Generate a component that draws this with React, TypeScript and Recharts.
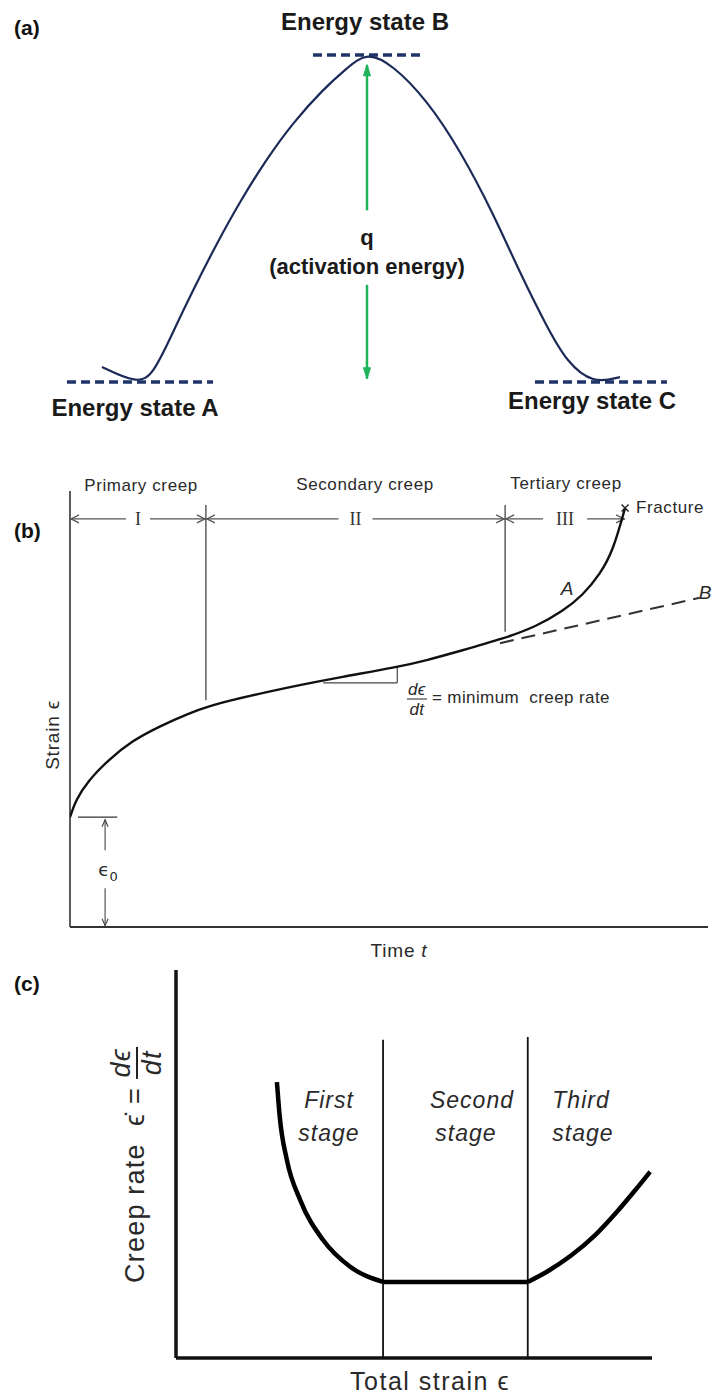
import React from 'react'
import { LineChart, Line, XAxis, YAxis, ReferenceLine, ReferenceDot } from 'recharts'

const SANS = '"Liberation Sans", Arial, sans-serif'
const SERIF = '"Liberation Serif", "DejaVu Serif", serif'
const NAVY = '#1f3468'
const GREEN = '#1fb45a'

// (a) energy along the reaction path A -> B -> C
const pathPos = [0.7, 1.4, 1.72, 2.12, 2.52, 3.0, 3.46, 4.0, 4.52, 5.12, 5.6, 6.0, 6.52, 7.2, 7.86, 8.52, 9.06, 9.6, 10.0, 10.52, 11.06]
const pathEnergy = [0.46, -0.05, 0.21, 1.53, 2.81, 4.25, 5.52, 6.84, 7.93, 8.95, 9.6, 10.1, 9.69, 8.62, 7.09, 5.17, 3.33, 1.68, 0.6, -0.05, 0.15]
const stateLevels = [0, 10, 0] // A, B, C
const stateSpans = [[0, 2.92], [4.92, 7.06], [9.36, 12]]
const peakPos = 6
const qUpper = [9.7, 5.25]
const qLower = [2.97, 0.1]

// (b) strain vs time
const creepTime = [0, 0.9, 2.8, 6, 9.7, 14.1, 18.8, 21.5, 25.5, 30.9, 36, 42.3, 51.3, 56, 61.1, 67.9, 73.2, 77.3, 80.4, 83.1, 85.1, 87]
const creepStrain = [25.2, 29.1, 33.5, 38.3, 42.7, 46.1, 49.1, 50.5, 52.1, 53.9, 55.5, 57.3, 59.6, 61.2, 63.3, 66.1, 69, 72.5, 76.1, 81, 86.2, 96.1]
const extrapTime = [67.4, 98.7]
const extrapStrain = [65.1, 75.5]
const stageBounds = [0, 21.3, 68.2, 87]
const stageNumerals = ['I', 'II', 'III']
const stageLineTop = 96.8
const stageLineBottoms = [52, 67.7]
const stageArrowLevel = 93.6
const initialStrain = 25.2
const initialBar = [1.25, 7.4]
const initialArrowAt = 5.5
const initialArrowUp = [17.6, 24.6]
const initialArrowDown = [8.9, 0.3]
const slopeTime = [39.7, 51.3]
const slopeStrain = [56, 59.6]

// (c) creep rate vs total strain
const firstStrain = [21.2, 21.8, 23.3, 26.1, 30.9, 36.6, 43.5]
const firstRate = [71.1, 62.1, 51, 40.7, 30.4, 23.5, 19.6]
const secondStrain = [43.5, 73.9]
const secondRate = [19.6, 19.6]
const thirdStrain = [73.9, 78, 83, 88, 92.5, 96.5, 99.6]
const thirdRate = [19.6, 22.3, 26.4, 31.6, 37.5, 43.3, 48]
const stageLimits = [43.5, 73.9]
const stageLimitTops = [82, 82.7]

type Pt = { x: number; y: number }
const toPts = (xs: number[], ys: number[]): Pt[] => xs.map((x, i) => ({ x, y: ys[i] }))

function arrowShape(o: { stroke: string; width: number; start?: boolean; end?: boolean; head?: number; half?: number; filled?: boolean }) {
  return (p: any) => {
    const { x1, y1, x2, y2 } = p
    const len = Math.hypot(x2 - x1, y2 - y1) || 1
    const ux = (x2 - x1) / len
    const uy = (y2 - y1) / len
    const h = o.head ?? 8
    const w = o.half ?? 3.5
    const tip = (x: number, y: number, d: number) => {
      const bx = x - d * ux * h
      const by = y - d * uy * h
      return `M${bx - uy * w},${by + ux * w}L${x},${y}L${bx + uy * w},${by - ux * w}` + (o.filled ? 'Z' : '')
    }
    const headProps = o.filled
      ? { fill: o.stroke, stroke: o.stroke, strokeWidth: 1 }
      : { fill: 'none', stroke: o.stroke, strokeWidth: o.width }
    return (
      <g>
        <line x1={x1} y1={y1} x2={x2} y2={y2} stroke={o.stroke} strokeWidth={o.width} />
        {o.start && <path d={tip(x1, y1, -1)} {...headProps} />}
        {o.end && <path d={tip(x2, y2, 1)} {...headProps} />}
      </g>
    )
  }
}

function spanShape(label: string) {
  return (p: any) => {
    const { x1, y1, x2 } = p
    const mid = (x1 + x2) / 2
    const gap = 7 + label.length * 5
    const c = '#555'
    return (
      <g>
        <line x1={x1} y1={y1} x2={mid - gap} y2={y1} stroke={c} strokeWidth={1.2} />
        <line x1={mid + gap} y1={y1} x2={x2} y2={y1} stroke={c} strokeWidth={1.2} />
        <path d={`M${x1 + 9},${y1 - 4}L${x1 + 1},${y1}L${x1 + 9},${y1 + 4}`} fill="none" stroke={c} strokeWidth={1.2} />
        <path d={`M${x2 - 9},${y1 - 4}L${x2 - 1},${y1}L${x2 - 9},${y1 + 4}`} fill="none" stroke={c} strokeWidth={1.2} />
        <text x={mid} y={y1} dy="0.36em" textAnchor="middle" fontFamily={SERIF} fontSize={18} fill="#333">{label}</text>
      </g>
    )
  }
}

type TxtProps = {
  x: number
  y: number
  children: React.ReactNode
  size?: number
  weight?: number
  italic?: boolean
  start?: boolean
  rotate?: number
  family?: string
  color?: string
  spacing?: number
}

const Txt = ({ x, y, children, size = 18, weight = 400, italic = false, start = false, rotate = 0, family = SANS, color = '#2a2a2a', spacing = 0 }: TxtProps) => (
  <div
    style={{
      position: 'absolute',
      left: x,
      top: y,
      transform: `translate(${start ? '0' : '-50%'}, -50%) rotate(${rotate}deg)`,
      fontFamily: family,
      fontSize: size,
      fontWeight: weight,
      fontStyle: italic ? 'italic' : 'normal',
      color,
      letterSpacing: spacing,
      whiteSpace: 'nowrap',
      lineHeight: 1,
    }}
  >
    {children}
  </div>
)

const Frac = ({ num, den, rule = 1.5 }: { num: string; den: string; rule?: number }) => (
  <span style={{ display: 'inline-flex', flexDirection: 'column', alignItems: 'center', verticalAlign: 'middle', lineHeight: 1, fontStyle: 'italic' }}>
    <span style={{ borderBottom: `${rule}px solid #222`, padding: '0 1px 1px' }}>{num}</span>
    <span style={{ paddingTop: 1 }}>{den}</span>
  </span>
)

export default function App() {
  return (
    <div style={{ position: 'absolute', left: 0, top: 0, width: 717, height: 1398, background: '#fff', overflow: 'hidden' }}>
      {/* (a) */}
      <div style={{ position: 'absolute', left: 0, top: 0 }}>
        <LineChart width={717} height={440} margin={{ top: 55, right: 50, bottom: 58, left: 67 }}>
          <XAxis type="number" dataKey="x" domain={[0, 12]} hide allowDataOverflow />
          <YAxis type="number" domain={[0, 10]} hide allowDataOverflow />
          {stateSpans.map((s, i) => (
            <ReferenceLine
              key={i}
              segment={[{ x: s[0], y: stateLevels[i] }, { x: s[1], y: stateLevels[i] }]}
              stroke={NAVY}
              strokeWidth={3.5}
              strokeDasharray="9 5"
            />
          ))}
          <Line data={toPts(pathPos, pathEnergy)} dataKey="y" type="basis" stroke="#1c2a58" strokeWidth={2.2} dot={false} isAnimationActive={false} />
          <ReferenceLine segment={[{ x: peakPos, y: qUpper[1] }, { x: peakPos, y: qUpper[0] }]} shape={arrowShape({ stroke: GREEN, width: 2.5, end: true, head: 11, half: 3.5, filled: true })} />
          <ReferenceLine segment={[{ x: peakPos, y: qLower[0] }, { x: peakPos, y: qLower[1] }]} shape={arrowShape({ stroke: GREEN, width: 2.5, end: true, head: 11, half: 3.5, filled: true })} />
        </LineChart>
      </div>

      {/* (b) */}
      <div style={{ position: 'absolute', left: 0, top: 440 }}>
        <LineChart width={717} height={540} margin={{ top: 51, right: 9, bottom: 53, left: 70 }}>
          <XAxis type="number" dataKey="x" domain={[0, 100]} hide allowDataOverflow />
          <YAxis type="number" domain={[0, 100]} hide allowDataOverflow />
          <ReferenceLine x={0} stroke="#333" strokeWidth={1.6} />
          <ReferenceLine y={0} stroke="#333" strokeWidth={1.8} />
          {stageLineBottoms.map((b, i) => (
            <ReferenceLine key={i} segment={[{ x: stageBounds[i + 1], y: stageLineTop }, { x: stageBounds[i + 1], y: b }]} stroke="#444" strokeWidth={1.3} />
          ))}
          {stageNumerals.map((n, i) => (
            <ReferenceLine key={n} segment={[{ x: stageBounds[i], y: stageArrowLevel }, { x: stageBounds[i + 1], y: stageArrowLevel }]} shape={spanShape(n)} />
          ))}
          <ReferenceLine segment={[{ x: slopeTime[0], y: slopeStrain[0] }, { x: slopeTime[1], y: slopeStrain[0] }]} stroke="#444" strokeWidth={1.2} />
          <ReferenceLine segment={[{ x: slopeTime[1], y: slopeStrain[0] }, { x: slopeTime[1], y: slopeStrain[1] }]} stroke="#444" strokeWidth={1.2} />
          <ReferenceLine segment={[{ x: initialBar[0], y: initialStrain }, { x: initialBar[1], y: initialStrain }]} stroke="#333" strokeWidth={1.4} />
          <ReferenceLine segment={[{ x: initialArrowAt, y: initialArrowUp[0] }, { x: initialArrowAt, y: initialArrowUp[1] }]} shape={arrowShape({ stroke: '#444', width: 1.1, end: true, head: 7, half: 3 })} />
          <ReferenceLine segment={[{ x: initialArrowAt, y: initialArrowDown[0] }, { x: initialArrowAt, y: initialArrowDown[1] }]} shape={arrowShape({ stroke: '#444', width: 1.1, end: true, head: 7, half: 3 })} />
          <Line data={toPts(extrapTime, extrapStrain)} dataKey="y" type="linear" stroke="#333" strokeWidth={2} strokeDasharray="14 8" dot={false} isAnimationActive={false} />
          <Line data={toPts(creepTime, creepStrain)} dataKey="y" type="basis" stroke="#111" strokeWidth={2.4} dot={false} isAnimationActive={false} />
          <ReferenceDot
            x={creepTime[creepTime.length - 1]}
            y={creepStrain[creepStrain.length - 1]}
            shape={(p: any) => (
              <path d={`M${p.cx - 3.5},${p.cy - 3.5}L${p.cx + 3.5},${p.cy + 3.5}M${p.cx - 3.5},${p.cy + 3.5}L${p.cx + 3.5},${p.cy - 3.5}`} stroke="#222" strokeWidth={1.4} />
            )}
          />
        </LineChart>
      </div>

      {/* (c) */}
      <div style={{ position: 'absolute', left: 0, top: 960 }}>
        <LineChart width={717} height={438} margin={{ top: 10, right: 65, bottom: 40, left: 176 }}>
          <XAxis type="number" dataKey="x" domain={[0, 100]} hide allowDataOverflow />
          <YAxis type="number" domain={[0, 100]} hide allowDataOverflow />
          <ReferenceLine x={0} stroke="#111" strokeWidth={3.5} />
          <ReferenceLine y={0} stroke="#111" strokeWidth={3.5} />
          {stageLimits.map((s, i) => (
            <ReferenceLine key={i} segment={[{ x: s, y: stageLimitTops[i] }, { x: s, y: 0 }]} stroke="#111" strokeWidth={1.8} />
          ))}
          <Line data={toPts(firstStrain, firstRate)} dataKey="y" type="monotone" stroke="#000" strokeWidth={4.5} dot={false} isAnimationActive={false} />
          <Line data={toPts(secondStrain, secondRate)} dataKey="y" type="linear" stroke="#000" strokeWidth={4.5} dot={false} isAnimationActive={false} />
          <Line data={toPts(thirdStrain, thirdRate)} dataKey="y" type="monotone" stroke="#000" strokeWidth={4.5} dot={false} isAnimationActive={false} />
        </LineChart>
      </div>

      {/* text, panel (a) */}
      <Txt x={14} y={27} start size={21} weight={700} color="#111">(a)</Txt>
      <Txt x={365} y={22} size={24} weight={700} color="#1a1a1a">Energy state B</Txt>
      <Txt x={135} y={408} size={24} weight={700} color="#1a1a1a">Energy state A</Txt>
      <Txt x={592} y={401} size={24} weight={700} color="#1a1a1a">Energy state C</Txt>
      <Txt x={367} y={238} size={22} weight={700} color="#1a1a1a">q</Txt>
      <Txt x={367} y={267} size={22} weight={700} color="#1a1a1a">(activation energy)</Txt>

      {/* text, panel (b) */}
      <Txt x={14} y={530} start size={21} weight={700} color="#111">(b)</Txt>
      <Txt x={141} y={485} size={17} spacing={0.6}>Primary creep</Txt>
      <Txt x={365} y={484} size={17} spacing={0.6}>Secondary creep</Txt>
      <Txt x={566} y={483} size={17} spacing={0.6}>Tertiary creep</Txt>
      <Txt x={636} y={507} start size={17} spacing={0.6}>Fracture</Txt>
      <Txt x={567} y={588} size={19} italic>A</Txt>
      <Txt x={705} y={592} size={19} italic>B</Txt>
      <Txt x={407} y={699} start size={17} spacing={0.4}>
        <Frac num={'d\u03F5'} den="dt" /> = minimum&nbsp; creep rate
      </Txt>
      <Txt x={108} y={872} size={18} family='"DejaVu Sans", sans-serif'>
        {'\u03F5'}<sub style={{ fontSize: 13 }}>0</sub>
      </Txt>
      <Txt x={52} y={735} size={19} rotate={-90} spacing={0.8}>{'Strain \u03F5'}</Txt>
      <Txt x={399} y={950} size={19} spacing={0.8}>
        Time <i>t</i>
      </Txt>

      {/* text, panel (c) */}
      <Txt x={14} y={983} start size={21} weight={700} color="#111">(c)</Txt>
      <Txt x={329} y={1100} size={23} italic spacing={1}>First</Txt>
      <Txt x={329} y={1133} size={23} italic spacing={1}>stage</Txt>
      <Txt x={472} y={1100} size={23} italic spacing={1}>Second</Txt>
      <Txt x={466} y={1133} size={23} italic spacing={1}>stage</Txt>
      <Txt x={581} y={1100} size={23} italic spacing={1}>Third</Txt>
      <Txt x={583} y={1133} size={23} italic spacing={1}>stage</Txt>
      <Txt x={430} y={1381} size={25} spacing={1.5}>{'Total strain \u03F5'}</Txt>
      <Txt x={137} y={1165} size={27} rotate={-90} spacing={1.2}>
        Creep rate&nbsp; {'\u03F5\u0307'} = <Frac num={'d\u03F5'} den="dt" rule={2} />
      </Txt>
    </div>
  )
}
